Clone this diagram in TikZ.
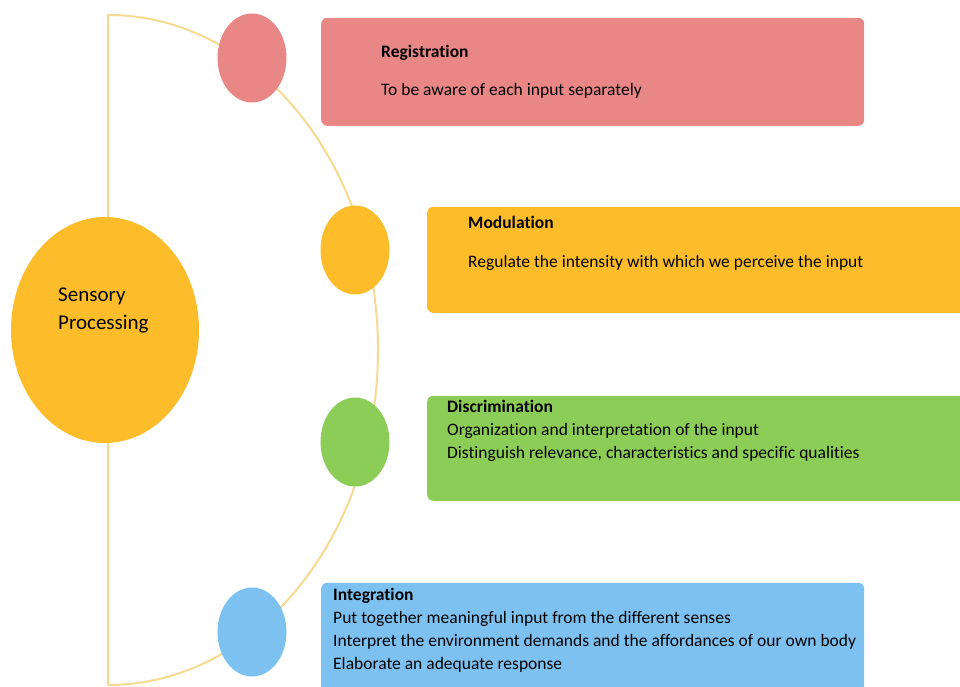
\documentclass[tikz,border=0pt]{standalone}
\usepackage{fontspec}
\setmainfont{Carlito}[Ligatures={NoCommon}]
\usepackage{xcolor}
\usetikzlibrary{shapes.geometric,positioning}

\definecolor{regpink}{HTML}{E98686}
\definecolor{modorange}{HTML}{FDBD2B}
\definecolor{disgreen}{HTML}{8BCD57}
\definecolor{intblue}{HTML}{7DC1F1}
\definecolor{arcline}{HTML}{F6DA92}

\begin{document}
\begin{tikzpicture}[x=1pt, y=1pt]
    \tikzstyle{bubble} = [ellipse, inner sep=0, minimum width=69pt, minimum height=89pt]
    \tikzstyle{panel} = [rectangle, rounded corners=6pt, anchor=south west, inner sep=0]
    \tikzstyle{paneltext} = [anchor=base west, align=left, inner sep=0, font=\fontsize{17.5}{23}\selectfont]
    \useasboundingbox (0,0) rectangle (960,686);

    % Frame line
    \draw [arcline, line width=2pt] (108,1) -- (108,671)
        arc [start angle=90, end angle=-90, x radius=270, y radius=335];

    % Centre
    \node [ellipse, fill=modorange, inner sep=0, minimum width=188pt, minimum height=226pt] (sensory) at (105,356) {};
    \node [paneltext, font=\fontsize{21}{28}\selectfont] (sensorytxt) at (58,356) {Sensory\\Processing};

    % Bubbles on the arc
    \node [bubble, fill=regpink] (regdot) at (252,628) {};
    \node [bubble, fill=modorange] (moddot) at (355,436) {};
    \node [bubble, fill=disgreen] (disdot) at (355,244) {};
    \node [bubble, fill=intblue] (intdot) at (252,54) {};

    % Panels
    \node [panel, fill=regpink, minimum width=543pt, minimum height=108pt] (reg) at (321,560) {};
    \node [panel, fill=modorange, minimum width=548pt, minimum height=106pt] (mod) at (427,373) {};
    \node [panel, fill=disgreen, minimum width=548pt, minimum height=105pt] (dis) at (427,185) {};
    \node [panel, fill=intblue, minimum width=543pt, minimum height=113pt] (int) at (321,-10) {};

    % Panel texts
    \node [paneltext] (regtxt) at (381,590.4) {\textbf{Registration}\\[15pt]To be aware of each input separately};
    \node [paneltext] (modtxt) at (468,418.4) {\textbf{Modulation}\\[16pt]Regulate the intensity with which we perceive the input};
    \node [paneltext] (distxt) at (447,227.4) {\textbf{Discrimination}\\Organization and interpretation of the input\\Distinguish relevance, characteristics and specific qualities};
    \node [paneltext] (inttxt) at (333,16.4) {\textbf{Integration}\\Put together meaningful input from the different senses\\Interpret the environment demands and the affordances of our own body\\Elaborate an adequate response};
\end{tikzpicture}
\end{document}
